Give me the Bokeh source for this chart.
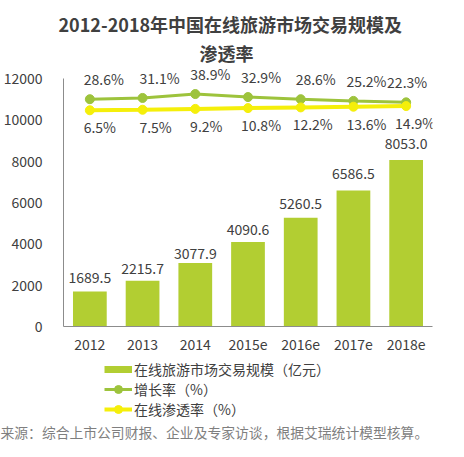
from bokeh.plotting import figure
from bokeh.layouts import column
from bokeh.models import (ColumnDataSource, FactorRange, Range1d, LabelSet, Title,
                          Legend, LegendItem)
from bokeh.core.properties import value
from bokeh.embed import file_html
from bokeh.resources import INLINE

# ---- data ----
years = ["2012", "2013", "2014", "2015e", "2016e", "2017e", "2018e"]
market = [1689.5, 2215.7, 3077.9, 4090.6, 5260.5, 6586.5, 8053.0]
growth = [28.6, 31.1, 38.9, 32.9, 28.6, 25.2, 22.3]
penetration = [6.5, 7.5, 9.2, 10.8, 12.2, 13.6, 14.9]
y_ticks = [0, 2000, 4000, 6000, 8000, 10000, 12000]

title_line1 = "2012-2018年中国在线旅游市场交易规模及"
title_line2 = "渗透率"
source_note = "来源：综合上市公司财报、企业及专家访谈，根据艾瑞统计模型核算。"
legend_labels = ["在线旅游市场交易规模（亿元）", "增长率（%）", "在线渗透率（%）"]

# ---- styles (label nudges in screen pixels) ----
bar_dy = [14, 12, 9, 12, 14, 17, 17]
growth_dx = [14, 17, 15, 13, 15, 13, 1]
pen_dx = [10, 13, 11, 13, 12, 13, 9]

FONT = "Noto Sans CJK SC"
TXT = "#404040"
BAR = "#B2CE32"
GREEN = "#9DC33C"
YELLOW = "#F5EF0A"
AXIS = "#8c8c8c"

src = ColumnDataSource(dict(
    year=years, market=market, growth=growth, pen=penetration,
    mtext=[f"{v:.1f}" for v in market],
    gtext=[f"{v:.1f}%" for v in growth],
    ptext=[f"{v:.1f}%" for v in penetration],
    bdy=bar_dy, gdx=growth_dx, pdx=pen_dx,
))

# ================= main chart =================
p = figure(width=448, height=359, x_range=FactorRange(*years, range_padding=0),
           y_range=Range1d(0, 12532), output_backend="svg", toolbar_location=None,
           title=None,
           min_border_left=60, min_border_right=16, min_border_top=67, min_border_bottom=33)
p.extra_y_ranges = {"pct": Range1d(-426, 92)}
p.outline_line_color = None
p.xgrid.visible = False
p.ygrid.visible = False

p.vbar(x="year", top="market", width=0.64, source=src, color=BAR, line_color=None)
p.line(x="year", y="growth", source=src, y_range_name="pct", line_color=GREEN, line_width=3)
p.scatter(x="year", y="growth", source=src, y_range_name="pct", size=9,
          fill_color=GREEN, line_color=GREEN)
p.line(x="year", y="pen", source=src, y_range_name="pct", line_color=YELLOW, line_width=4)
p.scatter(x="year", y="pen", source=src, y_range_name="pct", size=9,
          fill_color=YELLOW, line_color=YELLOW)

p.add_layout(LabelSet(x="year", y="market", text="mtext", source=src, y_offset="bdy",
                      text_align="center", text_baseline="middle", text_font=value(FONT),
                      text_font_size="14px", text_color=TXT))
p.add_layout(LabelSet(x="year", y="growth", text="gtext", source=src, y_range_name="pct",
                      x_offset="gdx", y_offset=20, text_align="center", text_baseline="middle",
                      text_font=value(FONT), text_font_size="14px", text_color=TXT))
p.add_layout(LabelSet(x="year", y="pen", text="ptext", source=src, y_range_name="pct",
                      x_offset="pdx", y_offset=-17, text_align="center", text_baseline="middle",
                      text_font=value(FONT), text_font_size="14px", text_color=TXT))

for ax in (p.xaxis[0], p.yaxis[0]):
    ax.axis_line_color = AXIS
    ax.major_tick_line_color = None
    ax.minor_tick_line_color = None
    ax.major_tick_out = 0
    ax.major_tick_in = 0
    ax.minor_tick_out = 0
    ax.major_label_text_font = FONT
    ax.major_label_text_font_size = "14px"
    ax.major_label_text_color = TXT
p.yaxis.ticker = y_ticks
p.yaxis.bounds = (y_ticks[0], y_ticks[-1])
p.yaxis.major_label_standoff = 21
p.xaxis.major_label_standoff = 12

p.add_layout(Title(text=title_line2, align="left", offset=136, text_font=FONT,
                   text_font_size="18px", text_font_style="bold", text_color=TXT,
                   standoff=3), "above")
p.add_layout(Title(text=title_line1, align="left", offset=-5, text_font=FONT,
                   text_font_size="18px", text_font_style="bold", text_color=TXT,
                   standoff=0), "above")

# ================= legend + source strip =================
q = figure(width=448, height=82, x_range=Range1d(0, 1), y_range=Range1d(0, 1),
           x_axis_type=None, y_axis_type=None, output_backend="svg", toolbar_location=None,
           min_border=0)
q.outline_line_color = None
q.xgrid.visible = False
q.ygrid.visible = False

# legend swatches: same series, plotted outside this strip's visible range
sw_bar = q.line(x="market", y="growth", source=src, line_color=BAR, line_width=7, line_cap="butt")
sw_gl = q.line(x="market", y="growth", source=src, line_color=GREEN, line_width=3)
sw_gc = q.scatter(x="market", y="growth", source=src, size=9, fill_color=GREEN, line_color=GREEN)
sw_pl = q.line(x="market", y="pen", source=src, line_color=YELLOW, line_width=4)
sw_pc = q.scatter(x="market", y="pen", source=src, size=9, fill_color=YELLOW, line_color=YELLOW)

legend = Legend(items=[LegendItem(label=legend_labels[0], renderers=[sw_bar]),
                       LegendItem(label=legend_labels[1], renderers=[sw_gl, sw_gc]),
                       LegendItem(label=legend_labels[2], renderers=[sw_pl, sw_pc])],
                location=(41, 0), orientation="vertical", glyph_width=28, glyph_height=20,
                label_height=20, spacing=0, padding=0, margin=0, label_standoff=2,
                border_line_alpha=0, background_fill_alpha=0,
                label_text_font=FONT, label_text_font_size="14px", label_text_color=TXT)
q.add_layout(legend, "center")

q.add_layout(Title(text=source_note, align="left", offset=-63, text_font=FONT,
                   text_font_size="13.8px", text_font_style="normal", text_color="#7f7f7f",
                   standoff=0), "below")

layout = column(p, q, spacing=0)
open("out.html", "w").write(file_html(layout, INLINE))
